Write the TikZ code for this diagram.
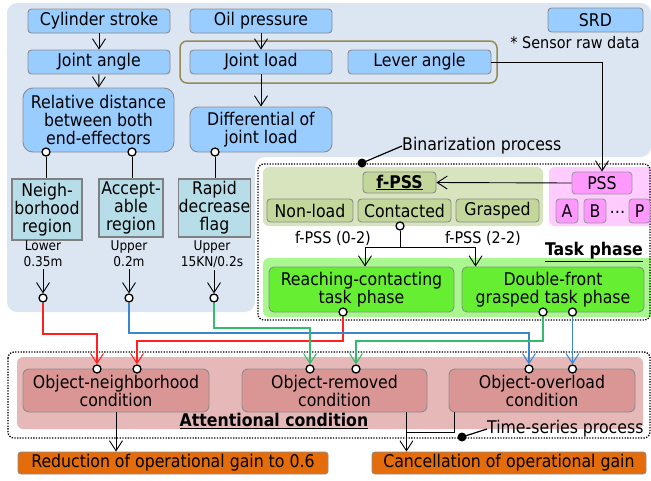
\documentclass[tikz,border=0pt]{standalone}
\usepackage{fontspec}
\setmainfont{DejaVu Sans Condensed}
\usetikzlibrary{arrows.meta,calc}
\definecolor{panelblue}{HTML}{DCE6F2}
\definecolor{boxblue}{HTML}{99CCFF}
\definecolor{boxgray}{HTML}{8C8C8C}
\definecolor{tealbox}{HTML}{B7DEE8}
\definecolor{olivepanel}{HTML}{D7E4BD}
\definecolor{olivebox}{HTML}{C4D79B}
\definecolor{olivering}{HTML}{948A54}
\definecolor{pinkpanel}{HTML}{FFCCFF}
\definecolor{pinkbox}{HTML}{FF99FF}
\definecolor{greenpanel}{HTML}{A9F88F}
\definecolor{greenbox}{HTML}{66EE33}
\definecolor{attpanel}{HTML}{E6B9B8}
\definecolor{attbox}{HTML}{D99694}
\definecolor{orangebox}{HTML}{E46C0A}
\definecolor{lred}{HTML}{FF2020}
\definecolor{lblue}{HTML}{3A86CC}
\definecolor{lgreen}{HTML}{33BB6E}
\newcommand\mainf{\fontsize{17.5}{18}\selectfont}
\newcommand\smallf{\fontsize{13.5}{16}\selectfont}
\newcommand\midf{\fontsize{16}{18}\selectfont}
\tikzset{
  base/.style={draw=boxgray, line width=0.9pt, inner sep=0pt, align=center, font=\mainf},
  bluebox/.style={base, fill=boxblue, rounded corners=3.5pt, minimum height=24pt},
  tbox/.style={base, fill=tealbox, line width=1.6pt, draw=gray},
  obox/.style={base, fill=olivebox, rounded corners=3.5pt, minimum height=23pt},
  pbox/.style={base, fill=pinkbox, rounded corners=3.5pt, draw=gray!80},
  gbox/.style={base, fill=greenbox, rounded corners=5pt, minimum height=45pt},
  abox/.style={base, fill=attbox, rounded corners=6pt, minimum height=43pt},
  orbox/.style={base, fill=orangebox, rounded corners=3pt, minimum height=22pt},
  circ/.style={circle, draw, fill=white, inner sep=0pt, minimum size=8pt, line width=1.3pt},
  dotbox/.style={line width=1.3pt, dash pattern=on 1.3pt off 1.4pt, rounded corners=6pt},
  arr/.style={line width=0.9pt, -{Straight Barb[length=10pt,width=13pt,line width=0.9pt]}},
  carr/.style={line width=1.3pt, -{Straight Barb[length=10pt,width=13pt,line width=1pt]}},
  lbl/.style={inner sep=0pt, align=center},
}
\begin{document}
\begin{tikzpicture}[x=1pt,y=-1pt]
\useasboundingbox (0,0) rectangle (651,480);
% panels
\fill[panelblue, rounded corners=10pt] (7,3) -- (651,3) -- (651,157) -- (255,157) -- (255,312) -- (7,312) -- cycle;
\fill[olivepanel, rounded corners=6pt] (263,167) rectangle (543,226);
\fill[pinkpanel, rounded corners=6pt] (549,167) rectangle (660,226);
\fill[greenpanel, rounded corners=6pt] (263,258) rectangle (660,317);
\fill[attpanel, rounded corners=6pt] (17,357) rectangle (643,429);
\draw[olivering, line width=1.5pt, rounded corners=7pt] (180,41) rectangle (497,83);
\draw[dotbox] (258,164) rectangle (650,320);
\draw[dotbox] (8,352) rectangle (650,438);

% SRD nodes
\node[bluebox, minimum width=142pt] (cyl) at (99,21) {Cylinder stroke};
\node[bluebox, minimum width=142pt] (oil) at (261,21) {Oil pressure};
\node[bluebox, minimum width=142pt] (ja) at (99,62) {Joint angle};
\node[bluebox, minimum width=142pt] (jl) at (261,62) {Joint load};
\node[bluebox, minimum width=143pt] (lev) at (419.5,62) {Lever angle};
\node[bluebox, minimum width=95pt] (srd) at (595.5,20) {SRD};
\node[lbl, font=\midf] (note) at (575,43) {* Sensor raw data};
\node[bluebox, rounded corners=10pt, minimum width=151pt, minimum height=64pt] (rel) at (98.5,120) {Relative distance\\between both\\end-effectors};
\node[bluebox, rounded corners=8pt, minimum width=142pt, minimum height=45pt] (dif) at (261,129.5) {Differential of\\joint load};
\node[circ] (rc1) at (46,152) {};
\node[circ] (rc2) at (132,152) {};
\node[circ] (dc) at (215,152) {};

\node[tbox, minimum width=70pt, minimum height=61pt] (nb) at (47,209.5) {Neigh-\\borhood\\region};
\node[tbox, minimum width=64pt, minimum height=58pt] (ac) at (131,208) {Accept-\\able\\region};
\node[tbox, minimum width=67pt, minimum height=58pt] (rp) at (214.5,208) {Rapid\\decrease\\flag};
\node[lbl, font=\smallf] (lb1) at (43,254) {Lower\\0.35m};
\node[lbl, font=\smallf] (lb2) at (129,254) {Upper\\0.2m};
\node[lbl, font=\smallf] (lb3) at (212,254) {Upper\\15KN/0.2s};
\node[circ] (tc1) at (43,298) {};
\node[circ] (tc2) at (129,298) {};
\node[circ] (tc3) at (214,298) {};

% binarization
\node[lbl, font=\mainf, anchor=west] (bin) at (402,146) {Binarization process};
\fill (362,163) circle (4.5pt) coordinate (bindot);
\draw[line width=1.2pt] (bindot) -- (bin.west);

% f-PSS area
\node[obox, minimum width=73pt, minimum height=21pt] (fpss) at (399.5,182.5) {\underline{\textbf{f-PSS}}};
\node[obox, minimum width=86pt] (nl) at (310,210.5) {Non-load};
\node[obox, minimum width=93pt] (ct) at (404.5,210.5) {Contacted};
\node[obox, minimum width=83pt] (gr) at (497.5,210.5) {Grasped};
\node[pbox, minimum width=60pt, minimum height=22pt] (pss) at (602,183) {PSS};
\node[pbox, minimum width=22pt, minimum height=24pt] (pa) at (567,211) {A};
\node[pbox, minimum width=22pt, minimum height=24pt] (pb) at (595,211) {B};
\node[lbl, font=\mainf] (pdots) at (617.5,212) {\ldots};
\node[pbox, minimum width=21pt, minimum height=24pt] (pp) at (639.5,211) {P};
\node[circ] (cc) at (400,226) {};
\node[lbl, font=\midf] (fl1) at (333,238) {f-PSS (0-2)};
\node[lbl, font=\midf] (fl2) at (483,238) {f-PSS (2-2)};
\node[lbl, font=\mainf, anchor=east] (tp) at (643,252) {\underline{\textbf{Task phase}}};
\node[gbox, minimum width=185pt] (rc) at (361.5,289.5) {Reaching-contacting\\task phase};
\node[gbox, minimum width=182pt] (df) at (553,289.5) {Double-front\\grasped task phase};
\node[circ] (rcc) at (343,312) {};
\node[circ] (dfc1) at (543,312) {};
\node[circ] (dfc2) at (572.5,312) {};

% attentional
\node[abox, minimum width=186pt] (on) at (116,390.5) {Object-neighborhood\\condition};
\node[abox, minimum width=185pt] (orm) at (334.5,390.5) {Object-removed\\condition};
\node[abox, minimum width=186pt] (ovl) at (542,390.5) {Object-overload\\condition};
\node[lbl, font=\mainf] (att) at (274,421) {\underline{\textbf{Attentional condition}}};
\node[circ] (o1) at (97,369) {};
\node[circ] (o2) at (137,369) {};
\node[circ] (o3) at (310,369) {};
\node[circ] (o4) at (356,369) {};
\node[circ] (o5) at (529,369) {};
\node[circ] (o6) at (572.5,369) {};
\node[orbox, minimum width=310pt] (red) at (173,463) {Reduction of operational gain to 0.6};
\node[orbox, minimum width=274pt] (can) at (509,463) {Cancellation of operational gain};
\node[lbl, font=\mainf, anchor=west] (ts) at (487,429) {Time-series process};
\fill (462,437) circle (4.5pt) coordinate (tsdot);
\draw[line width=1.2pt] (tsdot) -- (ts.west);

% black connectors
\draw[arr] (cyl) -- (ja);
\draw[arr] (oil) -- (jl);
\draw[arr] (ja) -- (rel);
\draw[arr] (jl) -- (dif);
\draw[line width=0.9pt] (rc1) -- (rc1 |- nb.north);
\draw[line width=0.9pt] (rc2) -- (rc2 |- ac.north);
\draw[line width=0.9pt] (dc) -- (dc |- rp.north);
\draw[arr] (tc1 |- lb1.south) ++(0,2) -- (tc1);
\draw[arr] (tc2 |- lb2.south) ++(0,2) -- (tc2);
\draw[arr] (tc3 |- lb3.south) ++(0,2) -- (tc3);
\draw[arr] (lev.east) -| (pss.north);
\draw[arr] (pss.west) -- (fpss.east);
\coordinate (sp) at (cc |- 0,247);
\draw[line width=0.9pt] (cc) -- (sp);
\draw[arr] (sp) -| ($(rc.north)+(3.5,0)$);
\draw[arr] (sp) -| ($(df.north west)+(14,0)$);
\draw[arr] (on.south) -- (on.south |- red.north);
\coordinate (ormb) at ($(orm.south east)+(-21,0)$);
\draw[arr] (ormb) -- (ormb |- can.north);
\draw[line width=0.9pt] ($(ovl.south west)+(6,0)$) -- ++(0,20) -| (ormb |- 0,432);

% coloured connectors
\draw[carr, lred] (tc1) -- ++(0,36) -| (o1);
\draw[carr, lred] (rcc) -- ++(0,29) -| (o2);
\draw[carr, lblue] (tc2) -- ++(0,35) -| (o5);
\draw[carr, lgreen] (tc3) -- ++(0,30) -| (o3);
\draw[carr, lgreen] (dfc1) -- ++(0,29) -| (o4);
\draw[carr, lblue] (dfc2) -- (o6);
\end{tikzpicture}
\end{document}
